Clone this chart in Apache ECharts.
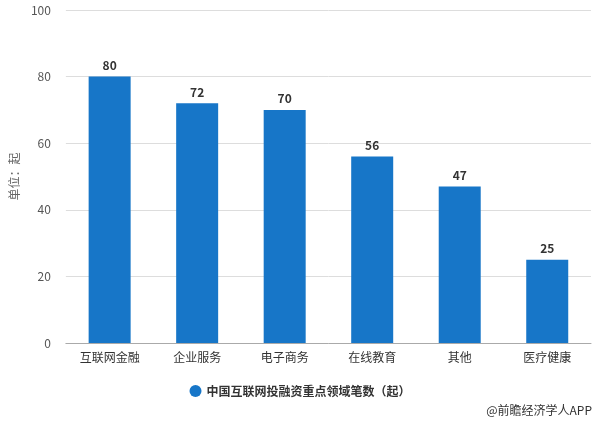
<!DOCTYPE html>
<html><head><meta charset="utf-8">
<script src="https://cdn.jsdelivr.net/npm/echarts@6/dist/echarts.min.js"></script>
<style>html,body{margin:0;padding:0;background:#fff}#c{width:600px;height:424px}</style>
</head><body><div id="c"></div>
<script>
const categories = ['互联网金融','企业服务','电子商务','在线教育','其他','医疗健康'];
const values = [80,72,70,56,47,25];
const seriesName = '中国互联网投融资重点领域笔数（起）';
const yTicks = [0,20,40,60,80,100];
const FONT = '"Noto Sans CJK SC", "Noto Sans", sans-serif';
const chart = echarts.init(document.getElementById('c'), null, {renderer:'canvas'});
chart.setOption({
  animation:false,
  textStyle:{fontFamily:FONT},
  grid:{left:63,right:9,top:10,bottom:81},
  legend:{bottom:22,left:'center',itemWidth:12,itemHeight:12,icon:'circle',
    textStyle:{fontFamily:FONT,fontSize:12,color:'#333',fontWeight:'bold'},data:[seriesName]},
  graphic:[{type:'text',right:8,bottom:8,style:{text:'@前瞻经济学人APP',font:'12px '+FONT,fill:'#333'}}],
  xAxis:{type:'category',data:categories,
    axisLine:{lineStyle:{color:'#aaa'}},
    axisTick:{alignWithLabel:true,length:5,lineStyle:{color:'#aaa'}},
    axisLabel:{fontFamily:FONT,fontSize:12,color:'#333',margin:8}},
  yAxis:{type:'value',min:yTicks[0],max:yTicks[yTicks.length-1],interval:20,
    name:'单位：起',nameLocation:'middle',nameGap:38,nameRotate:90,
    nameTextStyle:{fontFamily:FONT,fontSize:12,color:'#666'},
    axisLine:{show:false},axisTick:{show:false},
    axisLabel:{fontFamily:FONT,fontSize:12,color:'#555',margin:15},
    splitLine:{lineStyle:{color:'#ddd'}}},
  series:[{name:seriesName,type:'bar',data:values,barWidth:42,
    itemStyle:{color:'#1776c8'},
    label:{show:true,position:'top',distance:5,fontFamily:FONT,fontSize:12,fontWeight:'bold',color:'#333'}}]
});
</script></body></html>
